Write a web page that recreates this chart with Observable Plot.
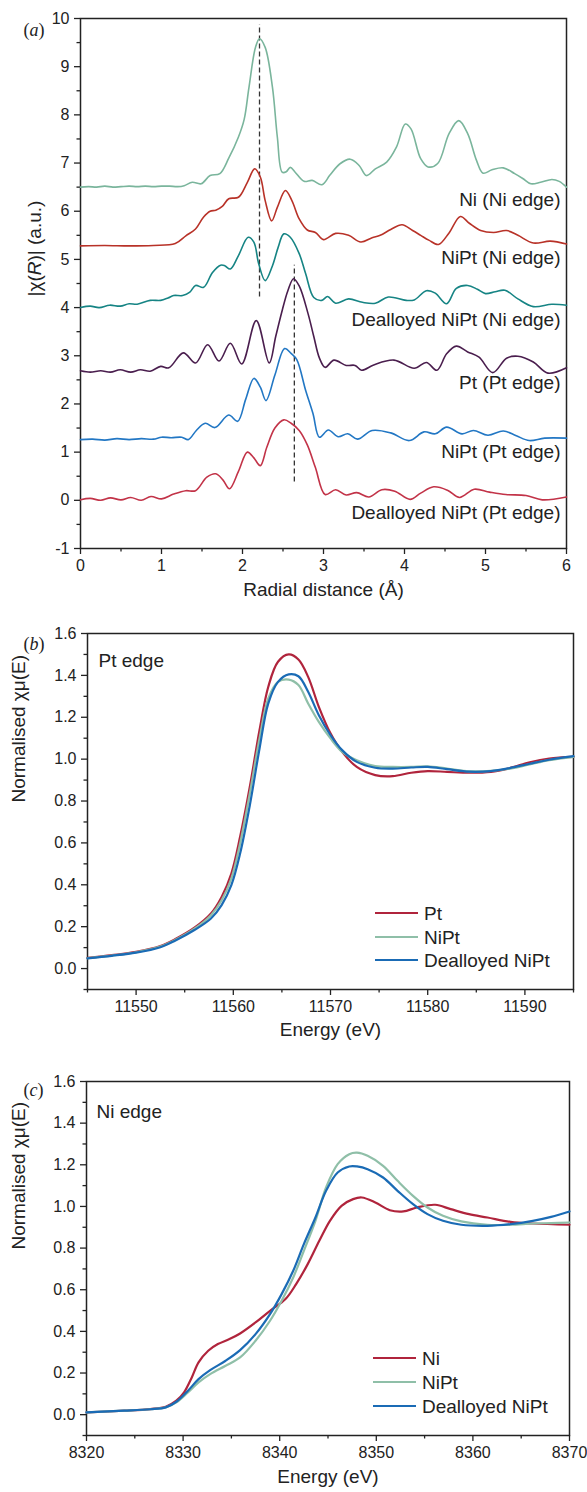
<!DOCTYPE html>
<html>
<head>
<meta charset="utf-8">
<script src="https://cdn.jsdelivr.net/npm/d3@7"></script>
<script src="https://cdn.jsdelivr.net/npm/@observablehq/plot@0.6"></script>
<style>
  html, body { margin: 0; padding: 0; background: #fff; }
  #wrap { position: relative; width: 587px; height: 1492px; overflow: hidden; font-family: "Liberation Sans", Arial, sans-serif; color: #222; }
  #wrap > svg, #wrap > .pnl { position: absolute; left: 0; }
  .legend { position: absolute; font-size: 19px; line-height: 1; }
  .legend .row { position: absolute; white-space: nowrap; display: flex; align-items: center; }
  .legend .sw { display: inline-block; width: 43px; height: 2.6px; margin-right: 6px; }
</style>
</head>
<body>
<div id="wrap"></div>
<script>
// ---------- Panel (a): |chi(R)| ----------
const aSeries = ["Ni (Ni edge)", "NiPt (Ni edge)", "Dealloyed NiPt (Ni edge)", "Pt (Pt edge)", "NiPt (Pt edge)", "Dealloyed NiPt (Pt edge)"];
const aColors = ["#7ab59c", "#b83228", "#168484", "#4a1e4e", "#2277c4", "#c23348"];
const aOffsets = [6.5, 5.3, 4.0, 2.7, 1.27, 0.0];

const niNiX = [0, 0.1, 0.2, 0.3, 0.4, 0.5, 0.6, 0.7, 0.8, 0.9, 1.0, 1.1, 1.2, 1.28, 1.38, 1.49, 1.6, 1.72, 1.83, 1.95, 2.02, 2.08, 2.16, 2.21, 2.28, 2.37, 2.43, 2.49, 2.54, 2.59, 2.65, 2.76, 2.86, 2.98, 3.08, 3.2, 3.33, 3.44, 3.53, 3.64, 3.78, 3.9, 4.01, 4.08, 4.2, 4.29, 4.41, 4.55, 4.67, 4.78, 4.89, 4.97, 5.08, 5.22, 5.36, 5.46, 5.56, 5.68, 5.82, 5.91, 6.0];
const niNiY = [6.50, 6.51, 6.50, 6.52, 6.50, 6.51, 6.52, 6.51, 6.52, 6.51, 6.52, 6.52, 6.51, 6.53, 6.60, 6.57, 6.74, 6.78, 7.10, 7.54, 7.90, 8.57, 9.40, 9.58, 9.40, 8.57, 7.54, 6.81, 6.82, 6.91, 6.81, 6.62, 6.64, 6.55, 6.75, 6.98, 7.08, 6.95, 6.74, 6.88, 7.02, 7.33, 7.81, 7.71, 7.09, 6.92, 6.99, 7.61, 7.88, 7.61, 7.05, 6.79, 6.86, 6.90, 6.78, 6.68, 6.57, 6.60, 6.66, 6.62, 6.50];

const niptNiX = [0, 0.3, 0.6, 0.9, 1.17, 1.3, 1.42, 1.52, 1.6, 1.67, 1.75, 1.83, 1.95, 2.06, 2.15, 2.22, 2.28, 2.36, 2.43, 2.53, 2.61, 2.7, 2.8, 2.9, 3.0, 3.15, 3.31, 3.46, 3.6, 3.7, 3.83, 3.97, 4.1, 4.2, 4.3, 4.42, 4.55, 4.69, 4.8, 4.94, 5.1, 5.26, 5.4, 5.59, 5.8, 6.0];
const niptNiY = [5.28, 5.29, 5.28, 5.29, 5.33, 5.49, 5.63, 5.88, 6.00, 6.02, 6.10, 6.26, 6.29, 6.60, 6.88, 6.71, 6.22, 5.80, 6.08, 6.43, 6.22, 5.84, 5.61, 5.56, 5.41, 5.54, 5.50, 5.36, 5.45, 5.50, 5.62, 5.72, 5.60, 5.50, 5.40, 5.31, 5.55, 5.89, 5.75, 5.60, 5.56, 5.60, 5.50, 5.34, 5.38, 5.32];

const dealNiX = [0, 0.12, 0.23, 0.36, 0.49, 0.6, 0.7, 0.86, 0.99, 1.08, 1.15, 1.26, 1.35, 1.42, 1.52, 1.63, 1.73, 1.78, 1.85, 1.95, 2.07, 2.14, 2.2, 2.28, 2.37, 2.44, 2.51, 2.59, 2.7, 2.78, 2.88, 2.98, 3.05, 3.15, 3.31, 3.48, 3.64, 3.8, 4.02, 4.12, 4.27, 4.38, 4.52, 4.64, 4.78, 4.9, 5.0, 5.12, 5.24, 5.4, 5.59, 5.82, 6.0];
const dealNiY = [4.00, 4.03, 4.00, 4.05, 4.03, 4.08, 4.07, 4.15, 4.15, 4.20, 4.25, 4.25, 4.32, 4.46, 4.42, 4.73, 4.88, 4.87, 4.80, 5.08, 5.46, 5.36, 4.91, 4.56, 4.87, 5.25, 5.53, 5.46, 5.12, 4.70, 4.21, 4.15, 4.23, 4.09, 4.18, 4.11, 4.09, 4.22, 4.15, 4.16, 4.35, 4.30, 4.08, 4.40, 4.46, 4.38, 4.29, 4.33, 4.36, 4.18, 4.02, 4.07, 4.05];

const ptPtX = [0, 0.12, 0.25, 0.37, 0.49, 0.62, 0.74, 0.86, 0.99, 1.09, 1.27, 1.42, 1.57, 1.71, 1.85, 1.99, 2.17, 2.33, 2.41, 2.49, 2.56, 2.63, 2.7, 2.81, 2.88, 2.95, 3.02, 3.13, 3.28, 3.39, 3.47, 3.62, 3.87, 4.12, 4.27, 4.4, 4.52, 4.64, 4.78, 4.92, 5.09, 5.26, 5.4, 5.59, 5.77, 6.0];
const ptPtY = [2.69, 2.66, 2.69, 2.66, 2.71, 2.66, 2.71, 2.68, 2.78, 2.75, 3.06, 2.85, 3.23, 2.89, 3.26, 2.83, 3.73, 2.85, 3.40, 3.94, 4.35, 4.60, 4.45, 3.87, 3.40, 2.95, 2.76, 2.91, 2.80, 2.80, 2.70, 2.81, 2.91, 2.74, 2.86, 2.70, 3.04, 3.20, 3.08, 2.97, 2.65, 2.95, 2.99, 2.87, 2.64, 2.75];

const niptPtX = [0, 0.15, 0.3, 0.45, 0.6, 0.75, 0.9, 1.0, 1.12, 1.25, 1.33, 1.43, 1.54, 1.66, 1.83, 1.94, 2.04, 2.14, 2.22, 2.29, 2.4, 2.52, 2.6, 2.67, 2.78, 2.87, 2.95, 3.06, 3.18, 3.3, 3.42, 3.6, 3.83, 4.06, 4.24, 4.38, 4.52, 4.71, 4.85, 5.03, 5.22, 5.38, 5.54, 5.73, 6.0];
const niptPtY = [1.26, 1.27, 1.25, 1.28, 1.26, 1.28, 1.27, 1.31, 1.30, 1.31, 1.26, 1.45, 1.60, 1.51, 1.77, 1.64, 2.10, 2.53, 2.35, 2.07, 2.60, 3.15, 3.05, 2.92, 2.28, 1.80, 1.31, 1.46, 1.32, 1.38, 1.27, 1.45, 1.40, 1.24, 1.42, 1.38, 1.52, 1.38, 1.45, 1.35, 1.44, 1.34, 1.24, 1.29, 1.29];

const dealPtX = [0, 0.12, 0.25, 0.37, 0.5, 0.62, 0.75, 0.87, 1.0, 1.15, 1.3, 1.42, 1.56, 1.67, 1.76, 1.84, 1.95, 2.06, 2.14, 2.22, 2.3, 2.4, 2.51, 2.6, 2.7, 2.8, 2.9, 3.02, 3.15, 3.28, 3.41, 3.56, 3.72, 3.88, 4.07, 4.2, 4.36, 4.53, 4.68, 4.86, 5.05, 5.25, 5.5, 5.7, 6.0];
const dealPtY = [0.01, 0.04, 0.00, 0.05, 0.01, 0.06, 0.00, 0.08, 0.03, 0.13, 0.20, 0.20, 0.48, 0.55, 0.42, 0.24, 0.60, 1.00, 0.88, 0.72, 1.10, 1.50, 1.67, 1.60, 1.45, 1.15, 0.68, 0.12, 0.22, 0.11, 0.16, 0.07, 0.22, 0.19, 0.02, 0.15, 0.28, 0.21, 0.06, 0.23, 0.17, 0.12, 0.10, 0.01, 0.07];

const dashX = [2.21, 2.64];
const dashTop = [9.87, 4.88];
const dashBottom = [4.22, 0.38];

const aXTicks = [0, 1, 2, 3, 4, 5, 6];
const aYTicks = [-1, 0, 1, 2, 3, 4, 5, 6, 7, 8, 9, 10];

// ---------- Panel (b): Pt edge XANES ----------
const bSeries = ["Pt", "NiPt", "Dealloyed NiPt"];
const bColors = ["#b0243c", "#8fbfa8", "#1a6bb5"];
const bX = [11545, 11547.5, 11550, 11552.5, 11554, 11556, 11557.7, 11558.8, 11559.8, 11560.7, 11561.7, 11562.7, 11563.6, 11564.6, 11565.7, 11566.7, 11567.7, 11568.8, 11570, 11571.2, 11572.7, 11574.6, 11576.4, 11578.3, 11580, 11582, 11584.3, 11586.5, 11588.5, 11590.5, 11592.5, 11595];
const bPt = [0.051, 0.064, 0.080, 0.108, 0.140, 0.195, 0.263, 0.342, 0.454, 0.629, 0.868, 1.139, 1.346, 1.465, 1.500, 1.476, 1.393, 1.250, 1.123, 1.035, 0.963, 0.924, 0.919, 0.935, 0.943, 0.939, 0.935, 0.939, 0.958, 0.985, 1.003, 1.011];
const bNiPt = [0.050, 0.062, 0.078, 0.105, 0.136, 0.190, 0.255, 0.326, 0.430, 0.597, 0.836, 1.099, 1.290, 1.369, 1.380, 1.354, 1.266, 1.178, 1.099, 1.035, 0.995, 0.967, 0.963, 0.963, 0.966, 0.955, 0.942, 0.944, 0.955, 0.975, 0.995, 1.011];
const bDeal = [0.049, 0.061, 0.076, 0.102, 0.133, 0.184, 0.239, 0.303, 0.398, 0.549, 0.780, 1.051, 1.266, 1.369, 1.405, 1.396, 1.322, 1.210, 1.115, 1.043, 0.987, 0.959, 0.955, 0.960, 0.963, 0.952, 0.940, 0.943, 0.958, 0.978, 0.997, 1.014];
const bXTicks = [11550, 11560, 11570, 11580, 11590];

// ---------- Panel (c): Ni edge XANES ----------
const cSeries = ["Ni", "NiPt", "Dealloyed NiPt"];
const cColors = ["#b0243c", "#8fbfa8", "#1a6bb5"];
const cNiX = [8320, 8323.9, 8326.6, 8328.2, 8329.3, 8330.1, 8330.9, 8331.6, 8332.6, 8333.6, 8334.8, 8335.9, 8337.5, 8339.0, 8340.6, 8341.7, 8342.9, 8344.1, 8345.2, 8346.4, 8347.6, 8348.5, 8349.9, 8351.4, 8352.8, 8354.2, 8356.1, 8357.7, 8359.6, 8361.5, 8363.9, 8366.2, 8370];
const cNiY = [0.011, 0.019, 0.027, 0.038, 0.067, 0.107, 0.179, 0.251, 0.307, 0.339, 0.363, 0.390, 0.443, 0.499, 0.555, 0.627, 0.723, 0.835, 0.931, 1.003, 1.035, 1.043, 1.019, 0.982, 0.976, 0.995, 1.008, 0.987, 0.963, 0.947, 0.926, 0.918, 0.912];
const cX = [8320, 8323.9, 8326.6, 8328.2, 8329.3, 8330.5, 8331.6, 8332.8, 8334.4, 8335.9, 8337.5, 8339.0, 8340.2, 8341.4, 8342.5, 8343.7, 8344.8, 8346.0, 8347.2, 8348.0, 8349.1, 8350.7, 8352.2, 8353.8, 8355.3, 8356.9, 8358.8, 8361.5, 8363.9, 8366.2, 8368.1, 8370];
const cNiPt = [0.011, 0.019, 0.026, 0.035, 0.059, 0.107, 0.155, 0.195, 0.235, 0.275, 0.355, 0.451, 0.547, 0.659, 0.787, 0.931, 1.091, 1.203, 1.251, 1.258, 1.243, 1.195, 1.123, 1.051, 0.995, 0.955, 0.928, 0.912, 0.912, 0.918, 0.920, 0.923];
const cDeal = [0.011, 0.019, 0.026, 0.035, 0.062, 0.115, 0.171, 0.214, 0.259, 0.310, 0.387, 0.483, 0.579, 0.691, 0.819, 0.947, 1.075, 1.163, 1.192, 1.192, 1.179, 1.139, 1.075, 1.011, 0.963, 0.931, 0.912, 0.907, 0.915, 0.931, 0.950, 0.976];
const cXTicks = [8320, 8330, 8340, 8350, 8360, 8370];

const xanesYTicks = [0, 0.2, 0.4, 0.6, 0.8, 1.0, 1.2, 1.4, 1.6];

// ---------- build ----------
const FONT = "'Liberation Sans', Arial, sans-serif";
const INK = "#222";
const wrap = document.getElementById("wrap");

function table(series, xs, ys) {
  return series.flatMap((s, i) => xs[i].map((x, j) => ({s, x, y: ys[i][j]})));
}

function axes(xMajor, xMinor, yMajor, yMinor, yFmt) {
  return [
    Plot.axisX({ticks: xMajor, tickSize: 6, tickPadding: 5, fontSize: 16, strokeWidth: 1.3, label: null, tickFormat: d => String(d)}),
    Plot.axisX({ticks: xMinor, tickSize: 3.5, strokeWidth: 1.3, label: null, tickFormat: () => ""}),
    Plot.axisY({ticks: yMajor, tickSize: 6, tickPadding: 5, fontSize: 16, strokeWidth: 1.3, label: null, tickFormat: yFmt}),
    Plot.axisY({ticks: yMinor, tickSize: 3.5, strokeWidth: 1.3, label: null, tickFormat: () => ""}),
    Plot.frame({stroke: INK, strokeWidth: 1.5})
  ];
}

function place(svg, top) {
  svg.style.top = top + "px";
  svg.style.position = "absolute";
  wrap.appendChild(svg);
  svg.querySelectorAll("text").forEach(t => {
    const s = t.textContent;
    if (/^\([abc]\)$/.test(s)) t.innerHTML = "(<tspan font-style='italic'>" + s[1] + "</tspan>)";
    if (s === "|χ(R)| (a.u.)") t.innerHTML = "|χ(<tspan font-style='italic'>R</tspan>)| (a.u.)";
  });
}

// Panel a
const aData = table(aSeries, [niNiX, niptNiX, dealNiX, ptPtX, niptPtX, dealPtX], [niNiY, niptNiY, dealNiY, ptPtY, niptPtY, dealPtY]);
const aLabels = aSeries.map((s, i) => ({s, y: aOffsets[i] - 0.26}));
const dashes = dashX.map((x, i) => ({x, y1: dashBottom[i], y2: dashTop[i]}));

const svgA = Plot.plot({
  width: 587, height: 610,
  marginTop: 18, marginBottom: 62, marginLeft: 80, marginRight: 21,
  x: {domain: [0, 6]},
  y: {domain: [-1, 10]},
  color: {domain: aSeries, range: aColors},
  style: {fontFamily: FONT, color: INK, background: "transparent"},
  marks: [
    ...axes(aXTicks, d3.range(0.5, 6, 1), aYTicks, d3.range(-0.5, 10, 1), d => String(d)),
    Plot.ruleX(dashes, {x: "x", y1: "y1", y2: "y2", stroke: "#333", strokeWidth: 1.3, strokeDasharray: "5,3"}),
    Plot.line(aData, {x: "x", y: "y", z: "s", stroke: "s", strokeWidth: 1.6, curve: "catmull-rom"}),
    Plot.text(aLabels, {x: () => 6, y: "y", text: "s", textAnchor: "end", dx: -6, fontSize: 19, fill: INK}),
    Plot.text(["Radial distance (Å)"], {frameAnchor: "bottom", dy: 47, fontSize: 19, fill: INK}),
    Plot.text(["|χ(R)| (a.u.)"], {frameAnchor: "left", dx: -46, dy: 13, rotate: -90, fontSize: 19, fill: INK}),
    Plot.text(["(a)"], {frameAnchor: "top-left", dx: -57, dy: 5, textAnchor: "start", fontSize: 18, fontFamily: "'Liberation Serif', 'Times New Roman', serif", fill: INK})
  ]
});
place(svgA, 0);

// Panel b
const bData = table(bSeries, [bX, bX, bX], [bPt, bNiPt, bDeal]);
const svgB = Plot.plot({
  width: 587, height: 440,
  marginTop: 23, marginBottom: 61, marginLeft: 87, marginRight: 14,
  x: {domain: [11545, 11595]},
  y: {domain: [-0.1, 1.6]},
  color: {domain: bSeries, range: bColors},
  style: {fontFamily: FONT, color: INK, background: "transparent"},
  marks: [
    ...axes(bXTicks, d3.range(11545, 11600, 10), xanesYTicks, d3.range(-0.1, 1.6, 0.2), d3.format(".1f")),
    Plot.line(bData, {x: "x", y: "y", z: "s", stroke: "s", strokeWidth: 2.2, curve: "catmull-rom"}),
    Plot.text(["Energy (eV)"], {frameAnchor: "bottom", dy: 46, fontSize: 19, fill: INK}),
    Plot.text(["Normalised χμ(E)"], {frameAnchor: "left", dx: -69, dy: -9, rotate: -90, fontSize: 19, fill: INK}),
    Plot.text(["Pt edge"], {frameAnchor: "top-left", dx: 11, dy: 20, textAnchor: "start", fontSize: 19, fill: INK}),
    Plot.text(["(b)"], {frameAnchor: "top-left", dx: -64, dy: 4, textAnchor: "start", fontSize: 18, fontFamily: "'Liberation Serif', 'Times New Roman', serif", fill: INK})
  ]
});
place(svgB, 610);

// Panel c
const cData = table(cSeries, [cNiX, cX, cX], [cNiY, cNiPt, cDeal]);
const svgC = Plot.plot({
  width: 587, height: 442,
  marginTop: 31, marginBottom: 57, marginLeft: 86, marginRight: 18,
  x: {domain: [8320, 8370]},
  y: {domain: [-0.1, 1.6]},
  color: {domain: cSeries, range: cColors},
  style: {fontFamily: FONT, color: INK, background: "transparent"},
  marks: [
    ...axes(cXTicks, d3.range(8325, 8370, 10), xanesYTicks, d3.range(-0.1, 1.6, 0.2), d3.format(".1f")),
    Plot.line(cData, {x: "x", y: "y", z: "s", stroke: "s", strokeWidth: 2.2, curve: "catmull-rom"}),
    Plot.text(["Energy (eV)"], {frameAnchor: "bottom", dy: 47, fontSize: 19, fill: INK}),
    Plot.text(["Normalised χμ(E)"], {frameAnchor: "left", dx: -68, dy: -9, rotate: -90, fontSize: 19, fill: INK}),
    Plot.text(["Ni edge"], {frameAnchor: "top-left", dx: 10, dy: 23, textAnchor: "start", fontSize: 19, fill: INK}),
    Plot.text(["(c)"], {frameAnchor: "top-left", dx: -63, dy: 2, textAnchor: "start", fontSize: 18, fontFamily: "'Liberation Serif', 'Times New Roman', serif", fill: INK})
  ]
});
place(svgC, 1050);

// HTML legends
function legend(series, colors, left, tops) {
  const div = document.createElement("div");
  div.className = "legend";
  div.style.left = left + "px";
  div.style.top = "0px";
  series.forEach((s, i) => {
    const row = document.createElement("div");
    row.className = "row";
    row.style.top = (tops[i] - 10) + "px";
    row.style.height = "20px";
    const sw = document.createElement("span");
    sw.className = "sw";
    sw.style.background = colors[i];
    row.appendChild(sw);
    row.appendChild(document.createTextNode(s));
    div.appendChild(row);
  });
  wrap.appendChild(div);
}
legend(bSeries, bColors, 375, [913, 937, 960]);
legend(cSeries, cColors, 373, [1358, 1382, 1406]);
</script>
</body>
</html>
